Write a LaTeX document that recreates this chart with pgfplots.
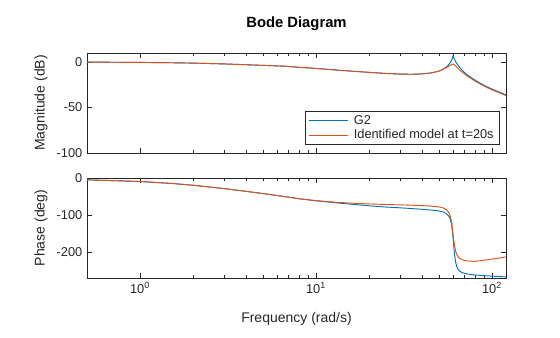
\documentclass[border=0pt]{standalone}
\usepackage{pgfplots}
\pgfplotsset{compat=1.18}
\usepackage{fontspec}
\setmainfont{Liberation Sans}
\definecolor{mblue}{rgb}{0,0.447,0.741}
\definecolor{morange}{rgb}{0.85,0.325,0.098}
\definecolor{axgray}{rgb}{0.15,0.15,0.15}
\begin{document}
\begin{tikzpicture}
\begin{axis}[name=mag, at={(0,0)}, anchor=north west,
  width=314.25pt, height=75pt, scale only axis,
  xmode=log, xmin=0.5, xmax=120,
  axis line style={axgray, line width=0.45pt},
  every tick/.style={axgray, line width=0.45pt},
  major tick length=3.5pt, minor tick length=2pt,
  tick align=inside,
  ticklabel style={font=\fontsize{9.6}{11}\selectfont, text=axgray},
  /pgf/number format/assume math mode=true,
  xtick={1,10,100},
  ymin=-100, ymax=10, ytick={-100,-50,0},
  xticklabels={},
  legend style={at={(0.984,0.08)}, anchor=south east,
    font=\fontsize{9.6}{11}\selectfont, text=axgray,
    draw=axgray, line width=0.45pt, inner xsep=2pt, inner ysep=1pt,
    row sep=-1.5pt, cells={anchor=west}},
  legend image code/.code={\draw[#1] (0pt,0pt) -- (29.25pt,0pt); \path (31.5pt,0pt);},
]
\addplot[mblue, line width=0.7pt, mark=none] coordinates {
(0.5,0) (0.7,-0.15) (1,-0.35) (1.5,-0.7) (2,-1.1) (3,-2) (4,-2.9) (5,-3.6) (6.6,-4.5) (8,-5.7) (10,-7) (13,-8.7) (16,-10) (20,-11.3) (25,-12.5) (30,-13.2) (35,-13.4) (39,-13.1) (44,-12.2) (48,-10.8) (51,-9.3) (54,-6.5) (56,-4) (57,-2.3) (58,-0.3) (59,2.5) (60,6.6) (61,3.5) (62,0.7) (63,-1.6) (65,-5) (68,-9.5) (72,-13.8) (78,-18.5) (85,-22.8) (92,-26.5) (100,-29.7) (110,-33) (120,-36)
};
\addlegendentry{G2}
\addplot[morange, line width=0.7pt, mark=none] coordinates {
(0.5,0) (0.7,-0.15) (1,-0.35) (1.5,-0.7) (2,-1.1) (3,-2) (4,-2.9) (5,-3.6) (6.6,-4.5) (8,-5.7) (10,-7) (13,-8.7) (16,-10) (20,-11.3) (25,-12.5) (30,-13.2) (35,-13.4) (39,-13.1) (44,-12.2) (48,-10.8) (51,-9.3) (54,-7) (56,-5.2) (58,-3.5) (59,-2.7) (60,-2) (61,-2.8) (62,-4) (63,-5.3) (65,-8) (68,-11.5) (72,-15) (78,-19.5) (85,-23.8) (92,-27.3) (100,-30.5) (110,-33.8) (120,-36.8)
};
\addlegendentry{Identified model at t=20s}
\end{axis}
\begin{axis}[name=ph, at={(0,-93.75pt)}, anchor=north west,
  width=314.25pt, height=75pt, scale only axis,
  xmode=log, xmin=0.5, xmax=120,
  axis line style={axgray, line width=0.45pt},
  every tick/.style={axgray, line width=0.45pt},
  major tick length=3.5pt, minor tick length=2pt,
  tick align=inside,
  ticklabel style={font=\fontsize{9.6}{11}\selectfont, text=axgray},
  /pgf/number format/assume math mode=true,
  xtick={1,10,100},
  ymin=-270, ymax=0, ytick={-200,-100,0},
  xticklabels={10\textsuperscript{0},10\textsuperscript{1},10\textsuperscript{2}},
]
\addplot[mblue, line width=0.7pt, mark=none] coordinates {
(0.5,-5) (0.7,-7) (1,-9.5) (1.5,-14.5) (2,-19.5) (3,-28.5) (4,-36) (5,-42) (6.6,-50) (8,-56) (10,-61.5) (13,-67) (16,-71) (20,-75) (25,-78.5) (30,-80.5) (35,-82.5) (40,-84.5) (45,-86.5) (50,-89) (53,-92) (55.5,-98) (57,-104) (58,-112) (59,-128) (60,-160) (61,-200) (62,-226) (63,-239) (64,-246) (66,-253) (70,-258) (80,-262) (100,-265) (120,-267)
};
\addplot[morange, line width=0.7pt, mark=none] coordinates {
(0.5,-5) (0.7,-7) (1,-9.5) (1.5,-14.5) (2,-19.5) (3,-28.5) (4,-36) (5,-42) (6.6,-50) (8,-56) (10,-61) (13,-65.5) (16,-68) (20,-70) (25,-71.5) (30,-72.5) (35,-73.5) (40,-74.5) (45,-76) (50,-78) (53,-81) (55.5,-87) (57,-95) (58,-104) (59,-120) (60,-152) (61,-178) (62,-196) (63,-207) (65,-216) (68,-221) (72,-224) (80,-225) (90,-222) (100,-219) (110,-216) (120,-213)
};
\end{axis}
\node[rotate=90, font=\fontsize{10.5}{12}\selectfont, text=axgray] at ([xshift=-34.5pt]mag.west) {Magnitude (dB)};
\node[rotate=90, font=\fontsize{10.5}{12}\selectfont, text=axgray] at ([xshift=-34.5pt]ph.west) {Phase (deg)};
\node[font=\fontsize{10.5}{12}\selectfont, text=axgray] at ([yshift=-30.75pt]ph.south) {Frequency (rad/s)};
\node[anchor=base, font=\bfseries\fontsize{11.1}{13}\selectfont, text=black] at ([yshift=19.5pt]mag.north) {Bode Diagram};
\pgfresetboundingbox
\useasboundingbox (-65.25pt,39.75pt) rectangle (354.75pt,-213pt);
\end{tikzpicture}
\end{document}
